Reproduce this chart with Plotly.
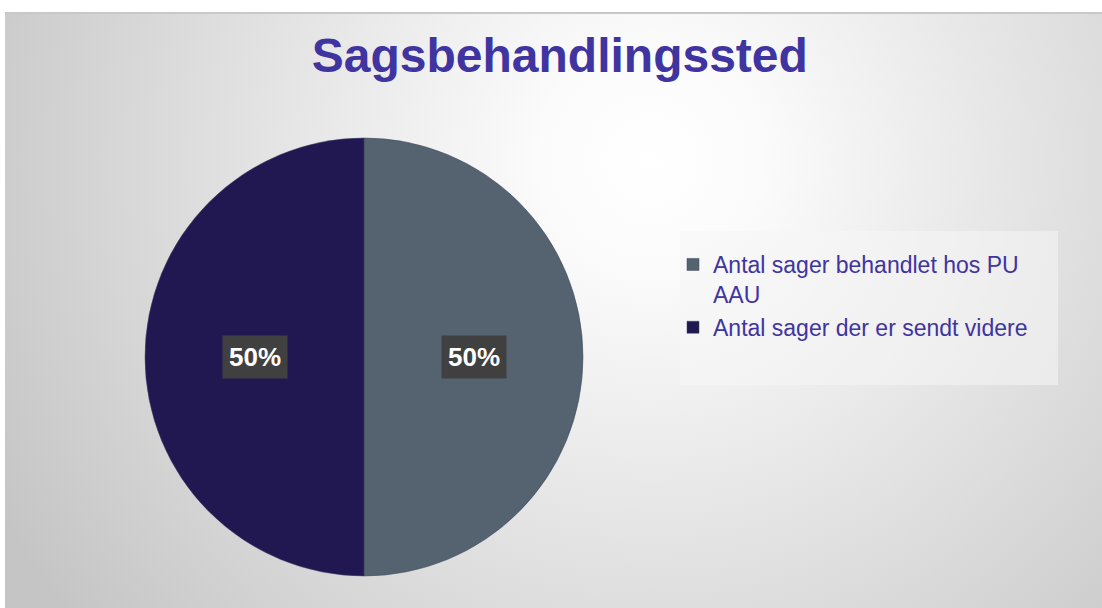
import base64
import math
import plotly.graph_objects as go

# ---- data ----
categories = ["Antal sager behandlet hos PU<br>AAU", "Antal sager der er sendt videre"]
values = [50, 50]
colors = ["#54636f", "#211852"]
title_text = "Sagsbehandlingssted"

W, H = 1102, 608
TEXT_COLOR = "#4034a0"

# background: radial grey gradient as an inline SVG
svg = f"""<svg xmlns='http://www.w3.org/2000/svg' width='{W}' height='{H}' viewBox='0 0 {W} {H}'>
<defs><radialGradient id='g' gradientUnits='userSpaceOnUse' cx='650' cy='160' r='740'>
<stop offset='0' stop-color='#ffffff'/><stop offset='0.15' stop-color='#fbfbfb'/>
<stop offset='1' stop-color='#c5c5c5'/></radialGradient></defs>
<rect x='0' y='0' width='{W}' height='{H}' fill='#ffffff'/>
<rect x='5' y='13' width='{W-5}' height='{H-13}' fill='url(#g)'/>
<rect x='5' y='12' width='{W-5}' height='2' fill='#c8c8c8'/>
</svg>"""
bg_uri = "data:image/svg+xml;base64," + base64.b64encode(svg.encode()).decode()

# pie geometry (paper domain)
cx, cy, r = 364, 357, 219
dom_x = [(cx - r) / W, (cx + r) / W]
dom_y = [(H - cy - r) / H, (H - cy + r) / H]

fig = go.Figure()
fig.add_trace(go.Pie(
    labels=categories,
    values=values,
    sort=False,
    direction="clockwise",
    rotation=0,
    marker=dict(colors=colors, line=dict(color="#3a4560", width=0.5)),
    textinfo="none",
    hoverinfo="label+percent",
    domain=dict(x=dom_x, y=dom_y),
))

# percentage labels in dark boxes, placed at slice mid-angles
total = sum(values)
start = 0.0
for v in values:
    frac = v / total
    mid = start + frac / 2
    ang = math.radians(90 - mid * 360)  # clockwise from 12 o'clock
    px = cx + 0.5 * r * math.cos(ang)
    py = cy - 0.5 * r * math.sin(ang)
    fig.add_annotation(
        x=px / W, y=(H - py) / H, xref="paper", yref="paper",
        xanchor="center", yanchor="middle",
        text=f"<b>{round(frac*100)}%</b>", showarrow=False,
        font=dict(family="Liberation Sans, Arial", size=26, color="white"),
        bgcolor="#404040", borderpad=6,
    )
    start += frac

fig.update_layout(
    width=W, height=H,
    margin=dict(l=0, r=0, t=0, b=0),
    paper_bgcolor="white",
    plot_bgcolor="rgba(0,0,0,0)",
    images=[dict(source=bg_uri, xref="paper", yref="paper", x=0, y=1,
                 sizex=1, sizey=1, sizing="stretch", layer="below",
                 xanchor="left", yanchor="top")],
    title=dict(text=f"<b>{title_text}</b>", x=0.508, xanchor="center",
               y=(H - 55) / H, yanchor="middle",
               font=dict(family="Liberation Sans, Arial", size=48, color=TEXT_COLOR)),
    shapes=[dict(type="rect", xref="paper", yref="paper",
                 x0=680 / W, x1=1058 / W, y0=(H - 385) / H, y1=(H - 231) / H,
                 fillcolor="rgba(245,245,245,0.55)", line=dict(width=0), layer="below")],
    legend=dict(
        x=673 / W, y=(H - 243) / H, xanchor="left", yanchor="top",
        bgcolor="rgba(0,0,0,0)", valign="top",
        font=dict(family="Liberation Sans, Arial", size=23, color=TEXT_COLOR),
        itemwidth=30,
    ),
    showlegend=True,
)

fig.write_html("out.html",
               config={"displayModeBar": False},
               post_script="document.body.style.margin='0';document.body.style.overflow='hidden';")
